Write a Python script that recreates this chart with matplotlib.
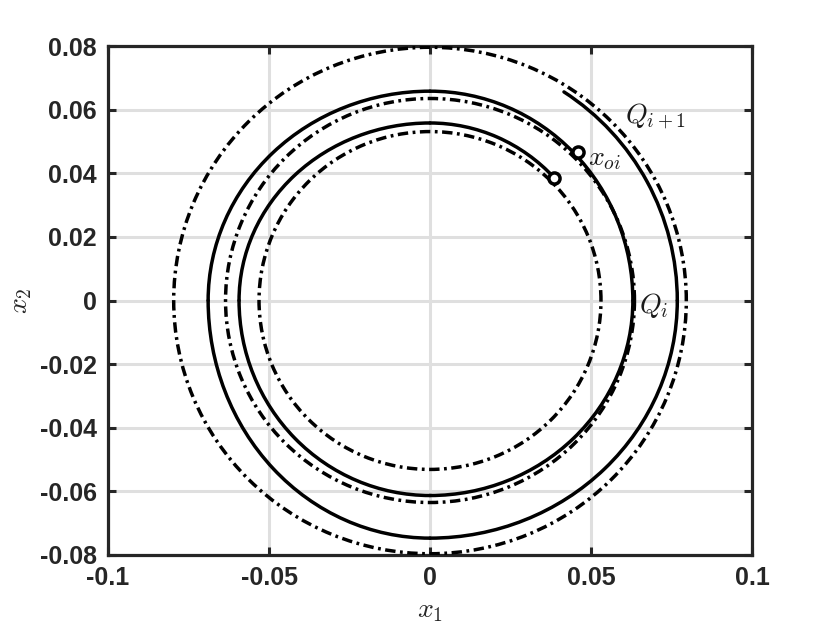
import matplotlib
matplotlib.use('Agg')
import matplotlib.pyplot as plt
from matplotlib.patches import Arc

# dash-dot level sets, radius read where they cross the axes
level_radii = [0.0531, 0.0635, 0.0796]

# solid trajectory: radius at each half-axis crossing, counter-clockwise
spiral_angles = [0, 90, 180, 270, 360, 450, 540, 630, 720, 810]
spiral_radii = [0.0534, 0.0558, 0.0593, 0.0613, 0.0630, 0.0658,
                0.0689, 0.0747, 0.0768, 0.0780]
spiral_start = 45
spiral_end = 777.6

# open circle markers
mark_x = [0.0385, 0.0459]
mark_y = [0.0385, 0.0466]

labels = [r'$Q_{i+1}$', r'$x_{oi}$', r'$Q_i$']
label_x = [0.0606, 0.0490, 0.0650]
label_y = [0.0555, 0.0426, -0.0039]

xticks = [-0.1, -0.05, 0, 0.05, 0.1]
xtick_labels = ['-0.1', '-0.05', '0', '0.05', '0.1']
yticks = [-0.08, -0.06, -0.04, -0.02, 0, 0.02, 0.04, 0.06, 0.08]
ytick_labels = ['-0.08', '-0.06', '-0.04', '-0.02', '0',
                '0.02', '0.04', '0.06', '0.08']

plt.rcParams['mathtext.fontset'] = 'cm'
dark = '#262626'
dashdot = (0, (3, 1.3, 0.8, 1.3))
line_w = 2.5

fig = plt.figure(figsize=(8.3, 6.23), dpi=100)
ax = fig.add_axes([108 / 830, 1 - 555 / 623, 644 / 830, 509 / 623])

# level sets
for r in level_radii:
    ax.add_patch(Arc((0, 0), 2 * r, 2 * r, color='k', lw=line_w,
                     linestyle=dashdot, zorder=3))

# trajectory, one quarter arc per pair of axis crossings
for k in range(len(spiral_angles) - 1):
    a0, a1 = spiral_angles[k], spiral_angles[k + 1]
    t0 = max(a0, spiral_start)
    t1 = min(a1, spiral_end)
    if t1 <= t0:
        continue
    if a0 % 180 == 0:
        w, h = spiral_radii[k], spiral_radii[k + 1]
    else:
        w, h = spiral_radii[k + 1], spiral_radii[k]
    base = a0 - a0 % 360
    ax.add_patch(Arc((0, 0), 2 * w, 2 * h, theta1=t0 - base,
                     theta2=t1 - base, color='k', lw=line_w,
                     capstyle='round', zorder=4))

ax.plot(mark_x, mark_y, 'o', ls='none', ms=8, mfc='white', mec='k',
        mew=2.5, zorder=5)

for txt, tx, ty in zip(labels, label_x, label_y):
    ax.text(tx, ty, txt, fontsize=20, color='#1a1a1a', ha='left',
            va='baseline', zorder=6)

ax.set_xlim(-0.1, 0.1)
ax.set_ylim(-0.08, 0.08)
ax.set_xticks(xticks)
ax.set_xticklabels(xtick_labels, fontweight='bold', family='Liberation Sans')
ax.set_yticks(yticks)
ax.set_yticklabels(ytick_labels, fontweight='bold', family='Liberation Sans')
ax.tick_params(direction='in', length=6, width=2.2, top=True, right=True,
               colors=dark, labelsize=18, pad=8)
ax.grid(True, color='#dfdfdf', lw=2.2)
ax.set_axisbelow(True)
for s in ax.spines.values():
    s.set_color(dark)
    s.set_linewidth(2.3)

ax.set_xlabel(r'$x_1$', fontsize=20, color=dark)
ax.set_ylabel(r'$x_2$', fontsize=20, color=dark)
ax.xaxis.set_label_coords(0.5, -0.08)
ax.yaxis.set_label_coords(-0.115, 0.5)

fig.savefig('out.png', dpi=100)
